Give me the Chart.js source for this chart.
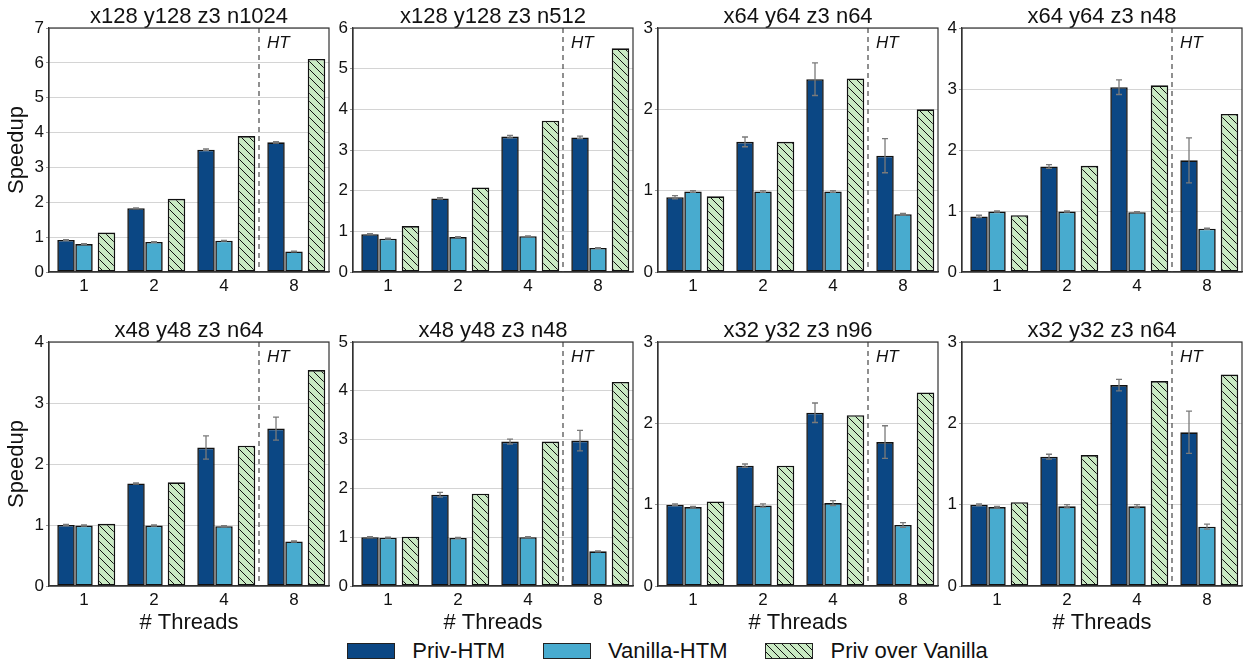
<!DOCTYPE html>
<html>
<head>
<meta charset="utf-8">
<script src="https://cdn.jsdelivr.net/npm/chart.js@4.4.0/dist/chart.umd.min.js"></script>
<style>
  body { margin: 0; background: #fff; width: 1245px; height: 666px; overflow: hidden; position: relative;
         font-family: "Liberation Sans", Arial, sans-serif; color: #111; }
  canvas.panel { position: absolute; }
  #legend { position: absolute; top: 638px; left: 0; width: 1335px; display: flex; justify-content: center;
            align-items: center; font-size: 22px; }
  .sw { width: 46px; height: 14px; border: 1.5px solid #222; margin-right: 17px; }
  .item { display: flex; align-items: center; margin: 0 19px; }
</style>
</head>
<body>
<div id="legend"></div>
<script>
// données
const threads = ['1', '2', '4', '8'];
const titles = ['x128 y128 z3 n1024', 'x128 y128 z3 n512', 'x64 y64 z3 n64', 'x64 y64 z3 n48',
                'x48 y48 z3 n64', 'x48 y48 z3 n48', 'x32 y32 z3 n96', 'x32 y32 z3 n64'];
const yMax = [7, 6, 3, 4, 4, 5, 3, 3];
const seriesNames = ['Priv-HTM', 'Vanilla-HTM', 'Priv over Vanilla'];
const htLabel = 'HT';

const privHTM = [
  [0.92, 1.83, 3.51, 3.72],
  [0.93, 1.81, 3.33, 3.31],
  [0.92, 1.60, 2.37, 1.43],
  [0.91, 1.73, 3.03, 1.83],
  [1.00, 1.68, 2.27, 2.58],
  [1.00, 1.87, 2.96, 2.98],
  [1.00, 1.48, 2.13, 1.77],
  [1.00, 1.59, 2.47, 1.89]
];
const privErr = [
  [0.01, 0.01, 0.02, 0.02],
  [0.01, 0.02, 0.03, 0.03],
  [0.02, 0.06, 0.20, 0.21],
  [0.02, 0.03, 0.12, 0.37],
  [0.01, 0.01, 0.19, 0.19],
  [0.01, 0.05, 0.05, 0.21],
  [0.01, 0.02, 0.12, 0.20],
  [0.01, 0.03, 0.07, 0.26]
];
const vanillaHTM = [
  [0.80, 0.86, 0.90, 0.59],
  [0.82, 0.86, 0.88, 0.59],
  [0.99, 0.99, 0.99, 0.71],
  [0.99, 0.99, 0.98, 0.71],
  [0.99, 0.99, 0.98, 0.73],
  [0.99, 0.985, 1.00, 0.71],
  [0.97, 0.99, 1.02, 0.75],
  [0.97, 0.98, 0.98, 0.73]
];
const vanillaErr = [
  [0.01, 0.01, 0.01, 0.01],
  [0.01, 0.01, 0.01, 0.01],
  [0.01, 0.01, 0.01, 0.01],
  [0.01, 0.01, 0.01, 0.01],
  [0.01, 0.01, 0.01, 0.01],
  [0.01, 0.01, 0.01, 0.01],
  [0.01, 0.02, 0.03, 0.03],
  [0.01, 0.02, 0.02, 0.03]
];
const privOverVanilla = [
  [1.13, 2.10, 3.90, 6.11],
  [1.13, 2.08, 3.72, 5.50],
  [0.93, 1.60, 2.38, 2.00],
  [0.93, 1.74, 3.06, 2.59],
  [1.02, 1.70, 2.30, 3.54],
  [1.01, 1.89, 2.96, 4.18],
  [1.04, 1.48, 2.10, 2.38],
  [1.03, 1.61, 2.52, 2.60]
];

// mise en page
const plotLeft = [49, 353, 658, 962];
const plotTop = [27, 341];
const plotW = 280, plotH = 245;
const colors = ['#0b4784', '#48abcf', '#c9eac3'];

Chart.defaults.font.family = '"Liberation Sans", Arial, sans-serif';
Chart.defaults.color = '#111';

function makeHatch() {
  const c = document.createElement('canvas');
  c.width = 8; c.height = 8;
  const g = c.getContext('2d');
  g.fillStyle = colors[2];
  g.fillRect(0, 0, 8, 8);
  g.strokeStyle = '#111';
  g.lineWidth = 1;
  g.beginPath();
  g.moveTo(-1, -1); g.lineTo(9, 9);
  g.moveTo(-1, 7); g.lineTo(1, 9);
  g.moveTo(7, -1); g.lineTo(9, 1);
  g.stroke();
  return g.createPattern(c, 'repeat');
}
const hatch = makeHatch();

// barres d'erreur
const errorBars = {
  id: 'errorBars',
  afterDatasetsDraw(chart) {
    const ctx = chart.ctx, y = chart.scales.y;
    chart.data.datasets.forEach((ds, i) => {
      if (!ds.errors) return;
      chart.getDatasetMeta(i).data.forEach((bar, j) => {
        const v = ds.data[j], e = ds.errors[j];
        const top = y.getPixelForValue(v + e), bot = y.getPixelForValue(v - e);
        ctx.save();
        ctx.strokeStyle = '#7a7a7a';
        ctx.lineWidth = 1.3;
        ctx.beginPath();
        ctx.moveTo(bar.x, top); ctx.lineTo(bar.x, bot);
        ctx.moveTo(bar.x - 3, top); ctx.lineTo(bar.x + 3, top);
        ctx.moveTo(bar.x - 3, bot); ctx.lineTo(bar.x + 3, bot);
        ctx.stroke();
        ctx.restore();
      });
    });
  }
};

// cadre + ligne HT
const frameHT = {
  id: 'frameHT',
  afterDatasetsDraw(chart) {
    const { ctx, chartArea: a, scales: { x } } = chart;
    const xs = (x.getPixelForValue(2) + x.getPixelForValue(3)) / 2;
    ctx.save();
    ctx.strokeStyle = '#555';
    ctx.lineWidth = 1.3;
    ctx.setLineDash([5, 4]);
    ctx.beginPath(); ctx.moveTo(xs, a.top); ctx.lineTo(xs, a.bottom); ctx.stroke();
    ctx.setLineDash([]);
    ctx.strokeStyle = '#333';
    ctx.lineWidth = 1.2;
    ctx.strokeRect(a.left, a.top, a.width, a.height);
    ctx.fillStyle = '#111';
    ctx.font = 'italic 17px "Liberation Sans", Arial, sans-serif';
    ctx.textBaseline = 'middle';
    ctx.fillText(htLabel, xs + 8, a.top + 15);
    ctx.restore();
  }
};

titles.forEach((title, i) => {
  const col = i % 4, row = Math.floor(i / 4);
  const cv = document.createElement('canvas');
  cv.className = 'panel';
  cv.width = 49 + plotW + 4;
  cv.height = 27 + plotH + (row ? 50 : 30);
  cv.style.left = (plotLeft[col] - 49) + 'px';
  cv.style.top = (plotTop[row] - 27) + 'px';
  document.body.appendChild(cv);

  new Chart(cv, {
    type: 'bar',
    data: {
      labels: threads,
      datasets: [
        { label: seriesNames[0], data: privHTM[i], errors: privErr[i], backgroundColor: colors[0],
          categoryPercentage: 0.771, barPercentage: 0.97 },
        { label: seriesNames[1], data: vanillaHTM[i], errors: vanillaErr[i], backgroundColor: colors[1],
          categoryPercentage: 0.771, barPercentage: 0.97 },
        { label: seriesNames[2], data: privOverVanilla[i], backgroundColor: hatch,
          categoryPercentage: 0.964, barPercentage: 0.78 }
      ]
    },
    options: {
      responsive: false,
      animation: false,
      devicePixelRatio: 1,
      layout: { padding: { left: 0, right: 4, top: 0, bottom: 0 } },
      datasets: { bar: { borderColor: '#111', borderWidth: 1.6, borderSkipped: false } },
      plugins: {
        legend: { display: false },
        tooltip: { enabled: false },
        title: { display: true, text: title, fullSize: false, color: '#111',
                 font: { size: 22, weight: 'normal', lineHeight: 1 }, padding: { top: 6, bottom: 0 } }
      },
      scales: {
        x: {
          grid: { display: false, drawTicks: false },
          border: { display: true, color: '#333', width: 1.2 },
          ticks: { font: { size: 17 }, padding: 4 },
          title: { display: row === 1, text: '# Threads', font: { size: 22 }, padding: { top: 0, bottom: 0 } },
          afterFit: s => { s.height = row ? 50 : 30; }
        },
        y: {
          min: 0, max: yMax[i],
          grid: { color: '#d4d4d4', lineWidth: 1, drawTicks: true, tickLength: 3, tickColor: '#999' },
          border: { display: true, color: '#333', width: 1.2 },
          ticks: { stepSize: 1, font: { size: 17 }, padding: 2 },
          title: { display: col === 0, text: 'Speedup', font: { size: 22 }, padding: { top: 4, bottom: 0 } },
          afterFit: s => { s.width = 49; }
        }
      }
    },
    plugins: [errorBars, frameHT]
  });
});

// légende commune
const legend = document.getElementById('legend');
seriesNames.forEach((name, k) => {
  const item = document.createElement('div');
  item.className = 'item';
  const sw = document.createElement('canvas');
  sw.className = 'sw';
  sw.width = 46; sw.height = 14;
  const g = sw.getContext('2d');
  g.fillStyle = k === 2 ? hatch : colors[k];
  g.fillRect(0, 0, 46, 14);
  const txt = document.createElement('span');
  txt.textContent = name;
  item.appendChild(sw);
  item.appendChild(txt);
  legend.appendChild(item);
});
</script>
</body>
</html>
